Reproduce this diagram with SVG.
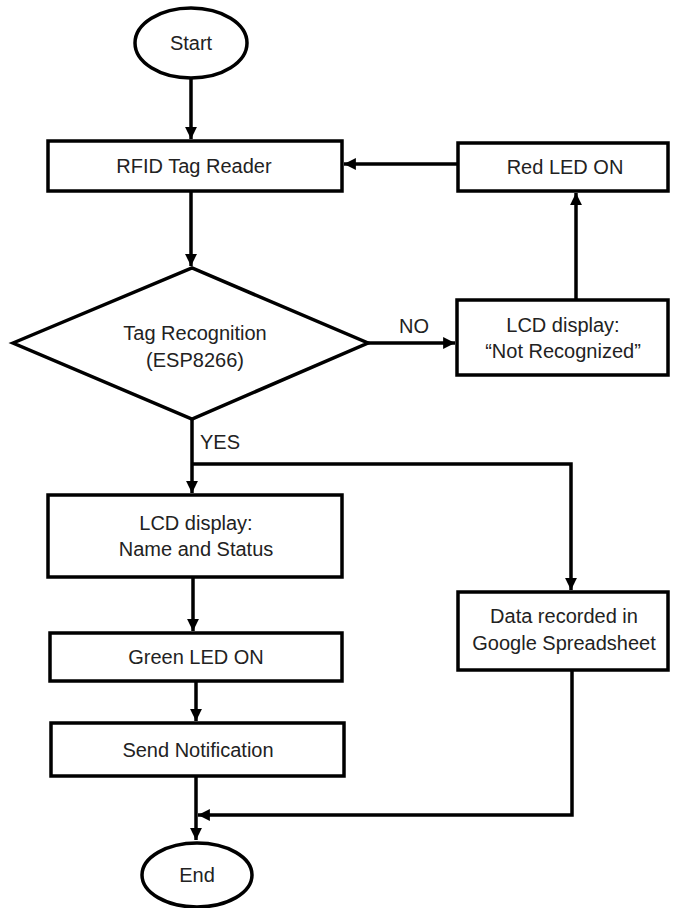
<svg xmlns="http://www.w3.org/2000/svg" width="675" height="908" viewBox="0 0 675 908">
<style>
.shape{fill:#fff;stroke:#000;stroke-width:3.5}
.t{font-family:"Liberation Sans",Arial,sans-serif;font-size:20px;fill:#222;text-anchor:middle}
.lbl{font-family:"Liberation Sans",Arial,sans-serif;font-size:20px;fill:#222}
.c{fill:none;stroke:#000;stroke-width:3.5}
</style>
<defs>
<marker id="ah" viewBox="0 0 10 10" refX="10" refY="5" markerWidth="3.4" markerHeight="3.4" orient="auto" markerUnits="strokeWidth">
<path d="M0,0 L10,5 L0,10 z" fill="#000"/>
</marker>
</defs>
<rect width="675" height="908" fill="#fff"/>
<g id="connectors">
<path class="c" d="M191,78 V139" marker-end="url(#ah)"/>
<path class="c" d="M191,191 V266" marker-end="url(#ah)"/>
<path class="c" d="M368,343 H455" marker-end="url(#ah)"/>
<path class="c" d="M576,300 V193" marker-end="url(#ah)"/>
<path class="c" d="M458,164 H344" marker-end="url(#ah)"/>
<path class="c" d="M192,419 V493" marker-end="url(#ah)"/>
<path class="c" d="M192,464 H571 V590" marker-end="url(#ah)"/>
<path class="c" d="M193,577 V631" marker-end="url(#ah)"/>
<path class="c" d="M196,681 V721" marker-end="url(#ah)"/>
<path class="c" d="M196,776 V840" marker-end="url(#ah)"/>
<path class="c" d="M572,670 V815 H198" marker-end="url(#ah)"/>
<text class="lbl" x="399" y="333">NO</text>
<text class="lbl" x="200" y="449">YES</text>
</g>
<g id="start">
<ellipse class="shape" cx="191" cy="43" rx="56" ry="35"/>
<text class="t" x="191" y="50">Start</text>
</g>
<g id="rfid">
<rect class="shape" x="48" y="141" width="294" height="50"/>
<text class="t" x="194" y="173">RFID Tag Reader</text>
</g>
<g id="redled">
<rect class="shape" x="458" y="143" width="210" height="48"/>
<text class="t" x="565" y="174">Red LED ON</text>
</g>
<g id="decision">
<polygon class="shape" points="13,343 192,268 368,343 192,419"/>
<text class="t" x="195" y="340">Tag Recognition</text>
<text class="t" x="195" y="367">(ESP8266)</text>
</g>
<g id="lcdnot">
<rect class="shape" x="457" y="300" width="211" height="75"/>
<text class="t" x="563" y="332">LCD display:</text>
<text class="t" x="563" y="358">“Not Recognized”</text>
</g>
<g id="lcdname">
<rect class="shape" x="48" y="495" width="294" height="82"/>
<text class="t" x="196" y="530">LCD display:</text>
<text class="t" x="196" y="556">Name and Status</text>
</g>
<g id="greenled">
<rect class="shape" x="50" y="633" width="292" height="48"/>
<text class="t" x="196" y="664">Green LED ON</text>
</g>
<g id="notify">
<rect class="shape" x="51" y="723" width="293" height="53"/>
<text class="t" x="198" y="757">Send Notification</text>
</g>
<g id="data">
<rect class="shape" x="458" y="592" width="210" height="78"/>
<text class="t" x="564" y="623">Data recorded in</text>
<text class="t" x="564" y="650">Google Spreadsheet</text>
</g>
<g id="end">
<ellipse class="shape" cx="197" cy="875" rx="55" ry="32"/>
<text class="t" x="197" y="882">End</text>
</g>
</svg>
